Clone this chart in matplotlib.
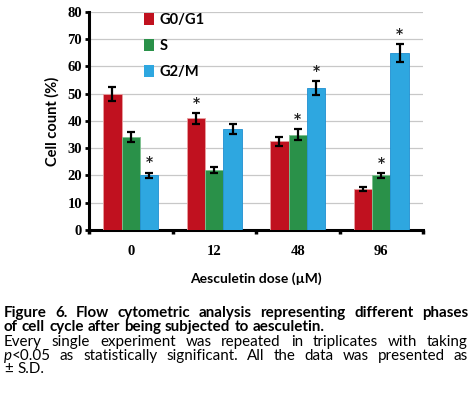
import numpy as np
import matplotlib.pyplot as plt
from matplotlib.patches import Patch

doses = ['0', '12', '48', '96']
phases = ['G0/G1', 'S', 'G2/M']
g0g1 = [50, 41, 32.5, 15]
s_phase = [34, 22, 35, 20]
g2m = [20, 37, 52, 65]
g0g1_sd = [2.5, 2.0, 1.6, 0.8]
s_sd = [1.8, 1.1, 1.9, 1.0]
g2m_sd = [1.1, 1.8, 2.5, 3.3]
stars = {'G0/G1': [1], 'S': [2, 3], 'G2/M': [0, 2, 3]}

colors = ['#c0111f', '#2a9149', '#2ea7e0']
edges = ['#e8a0a0', '#7cc08e', '#1f8fd0']

fig = plt.figure(figsize=(4.72, 3.95), dpi=100)
ax = fig.add_axes([0.1886, 0.4177, 0.7076, 0.552])

x = np.arange(len(doses))
w = 0.22
series = [g0g1, s_phase, g2m]
sds = [g0g1_sd, s_sd, g2m_sd]
for i, (name, vals, sd) in enumerate(zip(phases, series, sds)):
    xs = x + (i - 1) * w
    ax.bar(xs, vals, w, color=colors[i], edgecolor=edges[i], linewidth=0.6, zorder=3)
    ax.errorbar(xs, vals, yerr=sd, fmt='none', ecolor='black', elinewidth=1.6,
                capsize=2.8, capthick=1.6, zorder=4)
    for j in stars[name]:
        ax.text(xs[j], vals[j] + sd[j] + 1.2, '*', ha='center', va='bottom',
                fontsize=10, fontweight='bold', color='#222222', zorder=5)

ax.set_xlim(-0.5, len(doses) - 0.5)
ax.set_ylim(0, 80)
ax.set_yticks(range(0, 81, 10))
ax.yaxis.grid(True, color='#c8c8c8', linewidth=0.9, zorder=0)
ax.set_axisbelow(True)
ax.set_xticks(x)
ax.set_xticklabels(doses)
ax.set_xticks(np.arange(-0.5, len(doses)), minor=True)
ax.tick_params(axis='x', which='major', length=0, pad=11)
ax.tick_params(axis='x', which='minor', length=3, width=2.5, direction='out')
ax.tick_params(axis='y', length=3, width=2, pad=2)
for lab in ax.get_xticklabels() + ax.get_yticklabels():
    lab.set_family('Liberation Serif')
    lab.set_fontweight('bold')
    lab.set_fontsize(10.5)
for side in ['top', 'right']:
    ax.spines[side].set_visible(False)
ax.spines['left'].set_linewidth(2.2)
ax.spines['bottom'].set_linewidth(2.2)

ax.set_ylabel('Cell count (%)', family='Lato', fontweight='bold', fontsize=10.5, labelpad=6)
ax.set_xlabel('Aesculetin dose (\u00b5M)', family='Lato', fontweight='bold', fontsize=10, labelpad=10)

handles = [Patch(facecolor=c, edgecolor='none') for c in colors]
leg = ax.legend(handles, phases, loc='upper left', bbox_to_anchor=(0.125, 1.055), frameon=False,
                handlelength=0.7, handleheight=0.9, handletextpad=0.4, labelspacing=0.8,
                prop={'family': 'Lato', 'weight': 'bold', 'size': 10.5})

# caption, justified lines
fig.canvas.draw()
renderer = fig.canvas.get_renderer()
x0, x1 = 4, 468
H = 395
FS = 10.9


def place_line(words, ypix, justify, weight='normal'):
    arts = []
    widths = []
    for word in words:
        parts = word if isinstance(word, list) else [(word, 'normal')]
        grp = []
        wsum = 0
        for txt, style in parts:
            t = fig.text(0, 0, txt, family='Lato', fontsize=FS, fontweight=weight,
                         style=style, va='baseline', ha='left')
            bb = t.get_window_extent(renderer)
            grp.append((t, wsum))
            wsum += bb.width
        arts.append(grp)
        widths.append(wsum)
    space = fig.text(0, 0, ' ', family='Lato', fontsize=FS, fontweight=weight).get_window_extent(renderer).width
    if justify and len(words) > 1:
        gap = (x1 - x0 - sum(widths)) / (len(words) - 1)
    else:
        gap = space * 1.1
    xp = x0
    for grp, wd in zip(arts, widths):
        for t, off in grp:
            t.set_position(((xp + off) / 472, 1 - ypix / H))
        xp += wd + gap


place_line('Figure 6. Flow cytometric analysis representing different phases'.split(), 317, True, 'bold')
place_line('of cell cycle after being subjected to aesculetin.'.split(), 331, False, 'bold')
place_line('Every single experiment was repeated in triplicates with taking'.split(), 346, True)
place_line([[('p', 'italic'), ('<0.05', 'normal')]] +
           'as statistically significant. All the data was presented as'.split(), 360, True)
place_line(['\u00b1', 'S.D.'], 373, False)

fig.savefig('out.png', dpi=100)
